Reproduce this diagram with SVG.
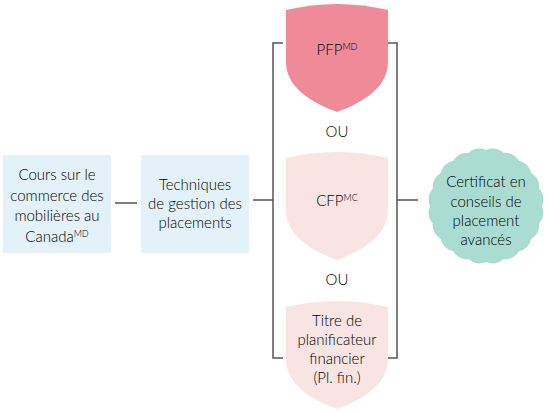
<svg xmlns="http://www.w3.org/2000/svg" width="550" height="412" viewBox="0 0 550 412">
<style>
text{font-family:Lato,"Open Sans",sans-serif;font-size:15px;font-weight:300;fill:#000;text-anchor:middle}
.sup{font-size:9px}
.box{fill:#e3f2f8}
.conn{fill:none;stroke:#555;stroke-width:1.5}
</style>
<defs>
<path id="shield" d="M-51,6 Q0,-6 51,6 L51,58 C51,82 28,98 0,108 C-28,98 -51,82 -51,58 Z"/>
</defs>
<rect width="550" height="412" fill="#fff"/>
<g id="connectors">
<path class="conn" d="M115,203 H137"/>
<path class="conn" d="M253,200 H273"/>
<path class="conn" d="M283,43 H273 V358 H283"/>
<path class="conn" d="M388,43 H397 V358 H388"/>
<path class="conn" d="M397,200 H418"/>
</g>
<g id="cours">
<rect class="box" x="3" y="155" width="108" height="98"/>
<text x="57" y="180">Cours sur le</text>
<text x="57" y="201">commerce des</text>
<text x="57" y="221">mobilières au</text>
<text x="57" y="242">Canada<tspan class="sup" dy="-5">MD</tspan></text>
</g>
<g id="techniques">
<rect class="box" x="141" y="155" width="108" height="98"/>
<text x="195" y="190">Techniques</text>
<text x="195" y="209">de gestion des</text>
<text x="195" y="228">placements</text>
</g>
<g id="pfp">
<use href="#shield" transform="translate(337,4)" fill="#ef8b99"/>
<text x="337" y="55">PFP<tspan class="sup" dy="-5">MD</tspan></text>
</g>
<g id="ou1"><text x="337" y="137">OU</text></g>
<g id="cfp">
<use href="#shield" transform="translate(337,152)" fill="#f7e4e3"/>
<text x="337" y="206">CFP<tspan class="sup" dy="-5">MC</tspan></text>
</g>
<g id="ou2"><text x="337" y="285">OU</text></g>
<g id="plfin">
<use href="#shield" transform="translate(337,301)" fill="#f7e4e3"/>
<text x="337" y="326">Titre de</text>
<text x="337" y="345">planificateur</text>
<text x="337" y="364">financier</text>
<text x="337" y="383">(Pl. fin.)</text>
</g>
<g id="certificat">
<path fill="#aadcd2" d="M542,206 A17,17 0 0 1 539.26,223.3 A17,17 0 0 1 531.3,238.92 A17,17 0 0 1 518.92,251.3 A17,17 0 0 1 503.3,259.26 A17,17 0 0 1 486,262 A17,17 0 0 1 468.7,259.26 A17,17 0 0 1 453.08,251.3 A17,17 0 0 1 440.7,238.92 A17,17 0 0 1 432.74,223.3 A17,17 0 0 1 430,206 A17,17 0 0 1 432.74,188.7 A17,17 0 0 1 440.7,173.08 A17,17 0 0 1 453.08,160.7 A17,17 0 0 1 468.7,152.74 A17,17 0 0 1 486,150 A17,17 0 0 1 503.3,152.74 A17,17 0 0 1 518.92,160.7 A17,17 0 0 1 531.3,173.08 A17,17 0 0 1 539.26,188.7 A17,17 0 0 1 542,206 Z"/>
<text x="486" y="187">Certificat en</text>
<text x="486" y="207">conseils de</text>
<text x="486" y="226">placement</text>
<text x="486" y="245">avancés</text>
</g>
</svg>
